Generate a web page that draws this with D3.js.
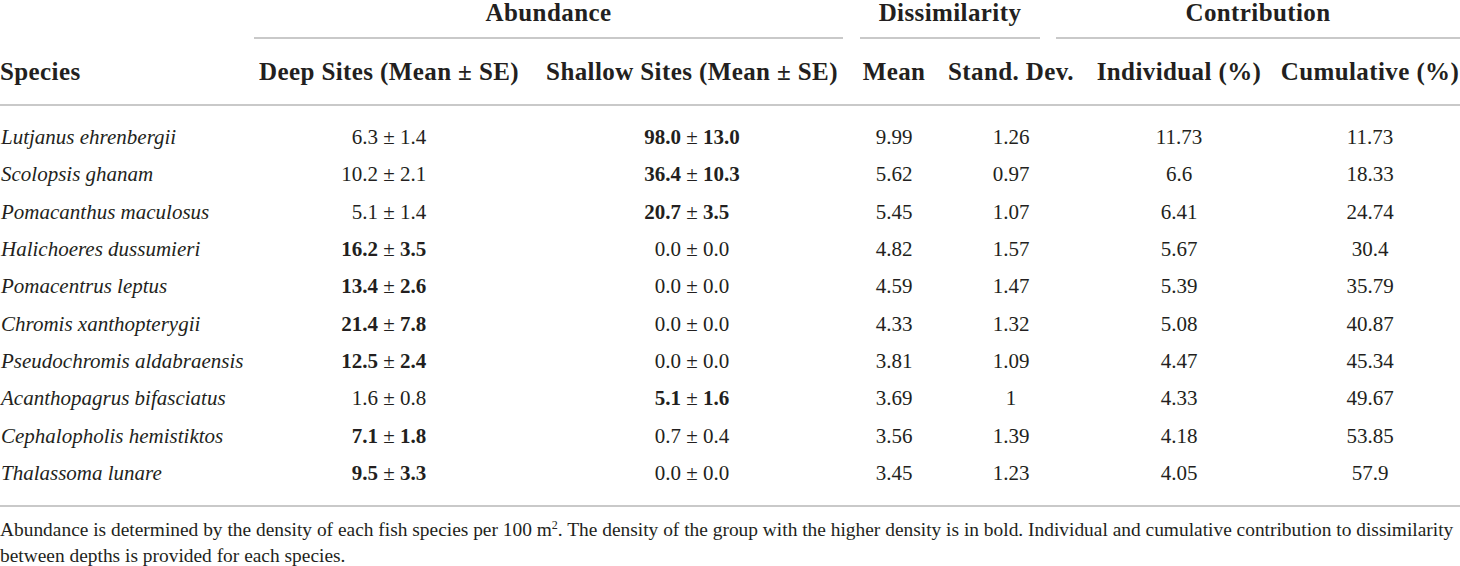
<!DOCTYPE html>
<html>
<head>
<meta charset="utf-8">
<script src="https://cdn.jsdelivr.net/npm/d3@7"></script>
<style>
  html, body { margin: 0; padding: 0; background: #fff; }
  svg { display: block; }
</style>
</head>
<body>
<svg id="table" width="1460" height="566"></svg>
<script>
// table content
const species = [
  "Lutjanus ehrenbergii", "Scolopsis ghanam", "Pomacanthus maculosus",
  "Halichoeres dussumieri", "Pomacentrus leptus", "Chromis xanthopterygii",
  "Pseudochromis aldabraensis", "Acanthopagrus bifasciatus",
  "Cephalopholis hemistiktos", "Thalassoma lunare"
];
const deepMean = ["6.3", "10.2", "5.1", "16.2", "13.4", "21.4", "12.5", "1.6", "7.1", "9.5"];
const deepSE = ["1.4", "2.1", "1.4", "3.5", "2.6", "7.8", "2.4", "0.8", "1.8", "3.3"];
const shallowMean = ["98.0", "36.4", "20.7", "0.0", "0.0", "0.0", "0.0", "5.1", "0.7", "0.0"];
const shallowSE = ["13.0", "10.3", "3.5", "0.0", "0.0", "0.0", "0.0", "1.6", "0.4", "0.0"];
const dissMean = ["9.99", "5.62", "5.45", "4.82", "4.59", "4.33", "3.81", "3.69", "3.56", "3.45"];
const dissSD = ["1.26", "0.97", "1.07", "1.57", "1.47", "1.32", "1.09", "1", "1.39", "1.23"];
const contribIndividual = ["11.73", "6.6", "6.41", "5.67", "5.39", "5.08", "4.47", "4.33", "4.18", "4.05"];
const contribCumulative = ["11.73", "18.33", "24.74", "30.4", "35.79", "40.87", "45.34", "49.67", "53.85", "57.9"];

const columnLabels = ["Species", "Deep Sites (Mean \u00b1 SE)", "Shallow Sites (Mean \u00b1 SE)",
  "Mean", "Stand. Dev.", "Individual (%)", "Cumulative (%)"];
const groupLabels = ["Abundance", "Dissimilarity", "Contribution"];
const footnote = [
  "Abundance is determined by the density of each fish species per 100 m",
  "between depths is provided for each species."
];
const footnoteTail = ". The density of the group with the higher density is in bold. Individual and cumulative contribution to dissimilarity";

const ink = "#231f20";
const rule = "#c9c9c9";
const serif = "'Liberation Serif', 'Times New Roman', serif";

const svg = d3.select("#table");

// column centres (species is left aligned)
const colX = d3.scaleOrdinal()
  .domain(columnLabels)
  .range([0, 389, 692, 894, 1011, 1179, 1370]);

// row positions
const rowY = d3.scalePoint()
  .domain(species)
  .range([137, 473]);

// spanning headers
const groups = [
  {label: groupLabels[0], x0: 254, x1: 843},
  {label: groupLabels[1], x0: 860, x1: 1040},
  {label: groupLabels[2], x0: 1056, x1: 1460}
];

const head = svg.append("g").attr("class", "head")
  .attr("font-family", serif)
  .attr("font-weight", "bold")
  .attr("font-size", 25)
  .attr("letter-spacing", 0.4)
  .attr("fill", ink);

head.selectAll("text.group")
  .data(groups)
  .join("text")
  .attr("class", "group")
  .attr("x", d => (d.x0 + d.x1) / 2)
  .attr("y", 21)
  .attr("text-anchor", "middle")
  .text(d => d.label);

svg.selectAll("line.group-rule")
  .data(groups)
  .join("line")
  .attr("class", "group-rule")
  .attr("x1", d => d.x0)
  .attr("x2", d => d.x1)
  .attr("y1", 38)
  .attr("y2", 38)
  .attr("stroke", rule)
  .attr("stroke-width", 2);

head.selectAll("text.col")
  .data(columnLabels)
  .join("text")
  .attr("class", "col")
  .attr("x", d => colX(d))
  .attr("y", 80)
  .attr("text-anchor", (d, i) => i === 0 ? "start" : "middle")
  .text(d => d);

// horizontal rules
[105, 506].forEach(y => {
  svg.append("line")
    .attr("x1", 0).attr("x2", 1460)
    .attr("y1", y).attr("y2", y)
    .attr("stroke", rule)
    .attr("stroke-width", 2);
});

const body = svg.append("g").attr("class", "body")
  .attr("font-family", serif)
  .attr("font-size", 21)
  .attr("fill", ink);

const rows = species.map((s, i) => ({
  species: s,
  deep: [deepMean[i], deepSE[i]],
  shallow: [shallowMean[i], shallowSE[i]],
  deepBold: +deepMean[i] > +shallowMean[i],
  cells: [dissMean[i], dissSD[i], contribIndividual[i], contribCumulative[i]]
}));

const row = body.selectAll("g.row")
  .data(rows)
  .join("g")
  .attr("class", "row")
  .attr("transform", d => `translate(0,${rowY(d.species) + 7})`);

row.append("text")
  .attr("x", 1)
  .attr("font-style", "italic")
  .text(d => d.species);

// mean ± SE, lined up on the ± sign
function pmCell(sel, key, col, bold) {
  const g = sel.append("g")
    .attr("font-weight", bold)
    .attr("transform", `translate(${colX(col)},0)`);
  g.append("text").attr("x", -11).attr("text-anchor", "end").text(d => d[key][0]);
  g.append("text").attr("x", 0).attr("text-anchor", "middle").attr("font-weight", "normal").text("\u00b1");
  g.append("text").attr("x", 11).attr("text-anchor", "start").text(d => d[key][1]);
}
pmCell(row, "deep", columnLabels[1], d => d.deepBold ? "bold" : "normal");
pmCell(row, "shallow", columnLabels[2], d => d.deepBold ? "normal" : "bold");

row.selectAll("text.num")
  .data(d => d.cells)
  .join("text")
  .attr("class", "num")
  .attr("x", (d, i) => colX(columnLabels[i + 3]))
  .attr("text-anchor", "middle")
  .text(d => d);

// footnote, sized so the first line runs the full width
const note = svg.append("g")
  .attr("font-family", serif)
  .attr("font-size", 17.5)
  .attr("fill", ink);

const first = note.append("text").attr("x", 0).attr("y", 536);
first.append("tspan").text(footnote[0]);
const sup = first.append("tspan").attr("font-size", 11).attr("dy", -7).text("2");
first.append("tspan").attr("dy", 7).text(footnoteTail);
note.append("text").attr("x", 0).attr("y", 562).text(footnote[1]);

const fit = 17.5 * 1455 / first.node().getComputedTextLength();
note.attr("font-size", fit);
sup.attr("font-size", fit * 0.62);
</script>
</body>
</html>
